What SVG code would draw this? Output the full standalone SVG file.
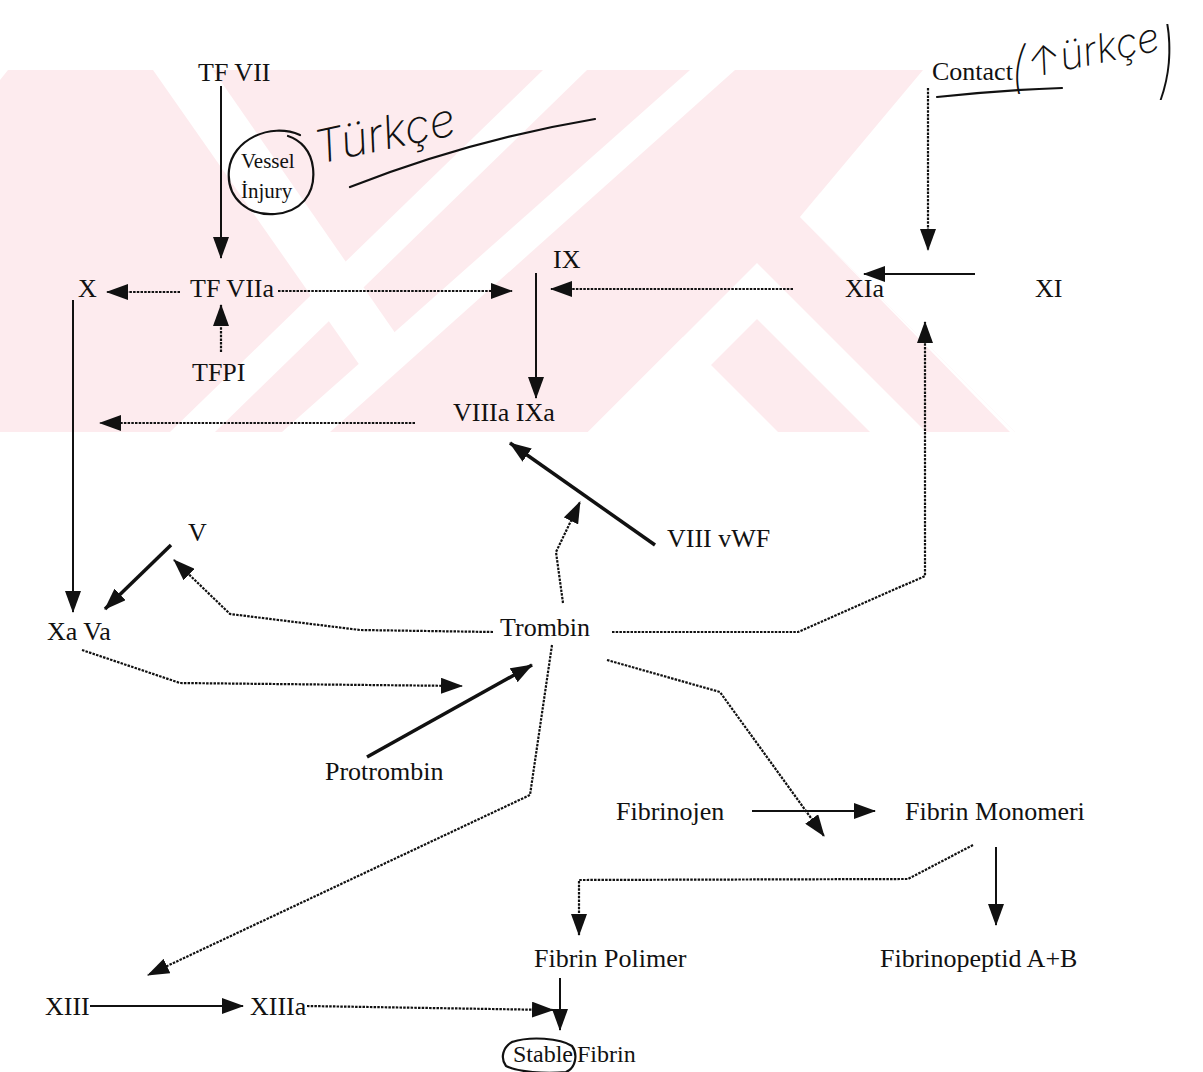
<svg xmlns="http://www.w3.org/2000/svg" width="1203" height="1072" viewBox="0 0 1203 1072">
<style>
text{font-family:"Liberation Serif","Times New Roman",serif;font-size:26px;fill:#111}
text.sm{font-size:21px}
text.st{font-size:24px}
text.hw{font-family:Inter,"Open Sans","DejaVu Sans",sans-serif;font-style:italic;font-weight:200;fill:#111}
.ln{fill:none;stroke:#111;stroke-width:2}
.dt{fill:none;stroke:#111;stroke-width:2.2;stroke-dasharray:2.5 1.2}
.tk{fill:none;stroke:#111;stroke-width:3.5}
.pen{fill:none;stroke:#111;stroke-width:2.2;stroke-linecap:round}
.wm{fill:#fdebee}
.ws{fill:#fff}
</style>
<defs>
<marker id="ah" markerUnits="userSpaceOnUse" markerWidth="22" markerHeight="16" refX="21" refY="8" orient="auto"><path d="M0,0 L22,8 L0,16 z" fill="#111"/></marker>
<clipPath id="wmclip"><polygon points="8,70 923,70 800,217 1015,432 0,432 0,80"/></clipPath>
</defs>
<rect width="1203" height="1072" fill="#fff"/>
<g id="watermark" clip-path="url(#wmclip)">
<rect class="wm" x="0" y="70" width="1052" height="362"/>
<polygon class="ws" points="153,70 213,70 400,340 370,380"/>
<polygon class="ws" points="690,70 735,70 330,432 282,432"/>
<polygon class="ws" points="543,70 587,70 215,432 170,432"/>
<polygon class="ws" points="757,263 926,432 870,432 757,319 644,432 588,432"/>
<polygon class="ws" points="683,337 778,432 588,432"/>
<polygon class="ws" points="800,217 820,193 1050,432 1010,432"/>
</g>
<g id="annotations">
<text class="hw" x="318" y="164" style="font-size:46px" transform="rotate(-12 318 164)">Türkçe</text>
<path class="pen" d="M350,187 Q470,140 595,119"/>
<path class="pen" d="M937,97 Q1000,90 1062,88"/>
<text class="hw" style="font-size:40px" transform="translate(1012 86) scale(1 1.4)">(</text>
<text class="hw" x="1030" y="78" style="font-size:40px" transform="rotate(-12 1030 78)">↑ürkçe</text>
<text class="hw" style="font-size:44px" transform="translate(1160 88) scale(1 1.9)">)</text>
</g>
<g id="connectors">
<path class="ln" d="M221,86 V258" marker-end="url(#ah)"/>
<path class="dt" d="M180,292 H107" marker-end="url(#ah)"/>
<path class="dt" d="M278,291 H512" marker-end="url(#ah)"/>
<path class="dt" d="M793,289 H551" marker-end="url(#ah)"/>
<path class="ln" d="M536,273 V398" marker-end="url(#ah)"/>
<path class="ln" d="M975,274 H864" marker-end="url(#ah)"/>
<path class="dt" d="M928,88 V250" marker-end="url(#ah)"/>
<path class="dt" d="M612,632 H798 L925,576 V322" marker-end="url(#ah)"/>
<path class="dt" d="M221,352 V305" marker-end="url(#ah)"/>
<path class="dt" d="M415,423 H100" marker-end="url(#ah)"/>
<path class="ln" d="M73,300 V612" marker-end="url(#ah)"/>
<path class="tk" d="M171,545 L105,609" marker-end="url(#ah)"/>
<path class="dt" d="M493,632 L360,630 L230,614 L174,560" marker-end="url(#ah)"/>
<path class="dt" d="M563,603 L556,552 L580,502" marker-end="url(#ah)"/>
<path class="tk" d="M655,545 L510,443" marker-end="url(#ah)"/>
<path class="dt" d="M82,650 L180,683 L462,686" marker-end="url(#ah)"/>
<path class="tk" d="M367,757 L532,665" marker-end="url(#ah)"/>
<path class="dt" d="M552,645 L530,795 L148,975" marker-end="url(#ah)"/>
<path class="dt" d="M607,660 L720,692 L824,836" marker-end="url(#ah)"/>
<path class="ln" d="M752,811 H875" marker-end="url(#ah)"/>
<path class="dt" d="M973,845 L908,879 L579,880 V935" marker-end="url(#ah)"/>
<path class="ln" d="M996,847 V925" marker-end="url(#ah)"/>
<path class="ln" d="M560,978 V1030" marker-end="url(#ah)"/>
<path class="ln" d="M90,1006 H243" marker-end="url(#ah)"/>
<path class="dt" d="M307,1006 L553,1010" marker-end="url(#ah)"/>
</g>
<g id="n-tfvii"><text x="198" y="81">TF VII</text></g>
<g id="n-vessel"><path class="pen" d="M300,135 C270,122 232,140 229,170 C226,200 250,216 275,214 C300,212 316,195 313,168 C311,150 300,140 288,136"/><text class="sm" x="241" y="168">Vessel</text><text class="sm" x="241" y="198">İnjury</text></g>
<g id="n-contact"><text x="932" y="80">Contact</text></g>
<g id="n-x"><text x="78" y="297">X</text></g>
<g id="n-tfviia"><text x="190" y="297">TF VIIa</text></g>
<g id="n-ix"><text x="553" y="268">IX</text></g>
<g id="n-xia"><text x="845" y="297">XIa</text></g>
<g id="n-xi"><text x="1035" y="297">XI</text></g>
<g id="n-tfpi"><text x="192" y="381">TFPI</text></g>
<g id="n-viiiaixa"><text x="453" y="421">VIIIa IXa</text></g>
<g id="n-v"><text x="188" y="541">V</text></g>
<g id="n-xava"><text x="47" y="640">Xa Va</text></g>
<g id="n-trombin"><text x="500" y="636">Trombin</text></g>
<g id="n-viiivwf"><text x="667" y="547">VIII vWF</text></g>
<g id="n-protrombin"><text x="325" y="780">Protrombin</text></g>
<g id="n-fibrinojen"><text x="616" y="820">Fibrinojen</text></g>
<g id="n-fibrinmonomeri"><text x="905" y="820">Fibrin Monomeri</text></g>
<g id="n-fibrinpolimer"><text x="534" y="967">Fibrin Polimer</text></g>
<g id="n-fibrinopeptid"><text x="880" y="967">Fibrinopeptid A+B</text></g>
<g id="n-xiii"><text x="45" y="1015">XIII</text></g>
<g id="n-xiiia"><text x="250" y="1015">XIIIa</text></g>
<g id="n-stable"><path class="pen" d="M512,1042 C530,1036 560,1038 572,1046 C578,1054 576,1068 566,1072 C545,1074 518,1072 506,1066 C500,1058 503,1047 512,1042"/><text class="st" x="513" y="1062">Stable</text><text class="st" x="577" y="1062">Fibrin</text></g>
</svg>
